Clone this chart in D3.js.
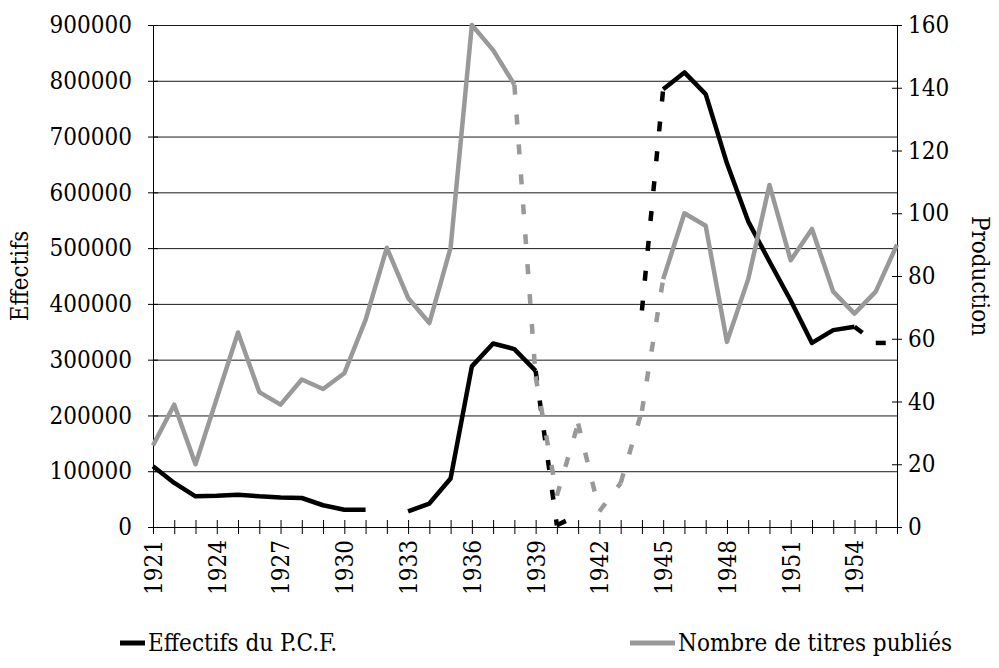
<!DOCTYPE html>
<html>
<head>
<meta charset="utf-8">
<script src="https://cdn.jsdelivr.net/npm/d3@7"></script>
<style>
  body { margin: 0; background: #fff; }
  svg text { font-family: "DejaVu Serif Condensed", "DejaVu Serif", serif; fill: #000; }
</style>
</head>
<body>
<div id="chart"></div>
<script>
const width = 999;
const height = 668;
const margin = { top: 25, right: 102, bottom: 141, left: 153 };
const fontSize = "24px";

const years = [
  1921, 1922, 1923, 1924, 1925, 1926, 1927, 1928, 1929, 1930, 1931, 1932,
  1933, 1934, 1935, 1936, 1937, 1938, 1939, 1940, 1941, 1942, 1943, 1944,
  1945, 1946, 1947, 1948, 1949, 1950, 1951, 1952, 1953, 1954, 1955, 1956,
];
const yearLabels = [1921, 1924, 1927, 1930, 1933, 1936, 1939, 1942, 1945, 1948, 1951, 1954];

// Effectifs du P.C.F. (left axis)
const effectifsSolid = [
  109000, 79000, 55000, 56000, 58000, 55000, 53000, 52000, 39000, 31000, 31000, null,
  28000, 42000, 87000, 288000, 329000, 319000, 280000, null, null, null, null, null,
  785000, 815000, 776000, 652000, 548000, 476000, 406000, 330000, 353000, 359000, null, null,
];
const effectifsDashed = [
  null, null, null, null, null, null, null, null, null, null, null, null,
  null, null, null, null, null, null, 280000, 3000, 22000, null, null, 388000,
  785000, null, null, null, null, null, null, null, null, 359000, 330000, 330000,
];

// Nombre de titres publiés (right axis)
const titresSolid = [
  26, 39, 20, 41, 62, 43, 39, 47, 44, 49, 66, 89,
  73, 65, 89, 160, 152, 141, null, null, null, null, null, null,
  79, 100, 96, 59, 79, 109, 85, 95, 75, 68, 75, 90,
];
const titresDashed = [
  null, null, null, null, null, null, null, null, null, null, null, null,
  null, null, null, null, null, 141, 48, 10, 33, 5, 14, 37,
  79, null, null, null, null, null, null, null, null, null, null, null,
];

const leftTicks = [0, 100000, 200000, 300000, 400000, 500000, 600000, 700000, 800000, 900000];
const rightTicks = [0, 20, 40, 60, 80, 100, 120, 140, 160];

const colors = { effectifs: "#000000", titres: "#999999", grid: "#1a1a1a" };

const innerW = width - margin.left - margin.right;
const innerH = height - margin.top - margin.bottom;

const x = d3.scalePoint().domain(years).range([0, innerW]);
const yLeft = d3.scaleLinear().domain([0, 900000]).range([innerH, 0]);
const yRight = d3.scaleLinear().domain([0, 160]).range([innerH, 0]);

const svg = d3.select("#chart").append("svg")
  .attr("width", width)
  .attr("height", height);

const g = svg.append("g").attr("transform", `translate(${margin.left},${margin.top})`);

// gridlines
g.append("g")
  .selectAll("line")
  .data(leftTicks)
  .enter()
  .append("line")
  .attr("x1", 0)
  .attr("x2", innerW)
  .attr("y1", (d) => yLeft(d) + 0.5)
  .attr("y2", (d) => yLeft(d) + 0.5)
  .attr("stroke", colors.grid)
  .attr("stroke-width", 1);

// axes
const crossTicks = (sel, dir) => {
  sel.attr("font-family", null).attr("font-size", null);
  sel.select(".domain").attr("stroke", "#000");
  sel.selectAll(".tick line").attr("stroke", "#000");
  if (dir === "v") sel.selectAll(".tick line").attr("x1", -5).attr("x2", 5);
  else sel.selectAll(".tick line").attr("y1", -7).attr("y2", 7);
};

const leftAxis = g.append("g")
  .call(d3.axisLeft(yLeft).tickValues(leftTicks).tickSize(5).tickSizeOuter(0).tickPadding(16).tickFormat(d3.format("d")));
crossTicks(leftAxis, "v");

const rightAxis = g.append("g")
  .attr("transform", `translate(${innerW},0)`)
  .call(d3.axisRight(yRight).tickValues(rightTicks).tickSize(5).tickSizeOuter(0).tickPadding(6).tickFormat(d3.format("d")));
crossTicks(rightAxis, "v");

const bottomAxis = g.append("g")
  .attr("transform", `translate(0,${innerH})`)
  .call(d3.axisBottom(x).tickSize(7).tickSizeOuter(0).tickFormat((d) => (yearLabels.includes(d) ? d : "")));
crossTicks(bottomAxis, "h");
bottomAxis.selectAll(".tick text")
  .attr("transform", "rotate(-90)")
  .attr("text-anchor", "end")
  .attr("x", -13)
  .attr("y", 0)
  .attr("dy", "0.35em");

svg.selectAll(".tick text").style("font-size", fontSize);

// series
const addSolid = (values, scale, color) => {
  const line = d3.line()
    .defined((d) => d != null)
    .x((d, i) => x(years[i]))
    .y((d) => scale(d));
  g.append("path")
    .datum(values)
    .attr("d", line)
    .attr("fill", "none")
    .attr("stroke", color)
    .attr("stroke-width", 4.5)
    .attr("stroke-linejoin", "round");
};

const addDashed = (values, scale, color) => {
  const segs = [];
  values.forEach((v, i) => {
    if (v != null && values[i + 1] != null) segs.push([i, i + 1]);
  });
  g.append("g")
    .selectAll("line")
    .data(segs)
    .enter()
    .append("line")
    .attr("x1", (d) => x(years[d[0]]))
    .attr("y1", (d) => scale(values[d[0]]))
    .attr("x2", (d) => x(years[d[1]]))
    .attr("y2", (d) => scale(values[d[1]]))
    .attr("stroke", color)
    .attr("stroke-width", 4.5)
    .attr("stroke-dasharray", "10,20");
};

addSolid(effectifsSolid, yLeft, colors.effectifs);
addDashed(effectifsDashed, yLeft, colors.effectifs);
addSolid(titresSolid, yRight, colors.titres);
addDashed(titresDashed, yRight, colors.titres);

// axis titles
svg.append("text")
  .attr("transform", `translate(28,${margin.top + innerH / 2}) rotate(-90)`)
  .attr("text-anchor", "middle")
  .style("font-size", fontSize)
  .text("Effectifs");

svg.append("text")
  .attr("transform", `translate(972,${margin.top + innerH / 2}) rotate(90)`)
  .attr("text-anchor", "middle")
  .style("font-size", fontSize)
  .text("Production");

// legend
const legend = [
  { name: "Effectifs du P.C.F.", color: colors.effectifs, x1: 120, x2: 145 },
  { name: "Nombre de titres publiés", color: colors.titres, x1: 630, x2: 675 },
];
const lg = svg.append("g").attr("transform", "translate(0,643)");
lg.selectAll("line")
  .data(legend)
  .enter()
  .append("line")
  .attr("x1", (d) => d.x1)
  .attr("x2", (d) => d.x2)
  .attr("stroke", (d) => d.color)
  .attr("stroke-width", 5);
lg.selectAll("text")
  .data(legend)
  .enter()
  .append("text")
  .attr("x", (d) => d.x2 + 3)
  .attr("dy", "0.35em")
  .style("font-size", fontSize)
  .text((d) => d.name);
</script>
</body>
</html>
